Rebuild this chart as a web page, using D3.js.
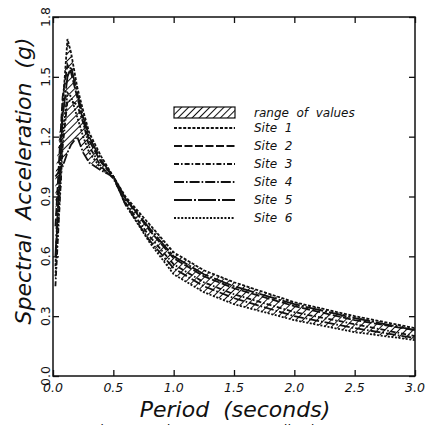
<!DOCTYPE html>
<html>
<head>
<meta charset="UTF-8">
<script src="https://d3js.org/d3.v7.min.js"></script>
<style>
  body { margin: 0; background: #fff; }
  text { font-family: "DejaVu Sans", sans-serif; fill: #111; white-space: pre; }
</style>
</head>
<body>
<div id="chart"></div>
<script>
const width = 431, height = 425;
const marginTop = 17, marginRight = 16, marginBottom = 49, marginLeft = 53;

// period (s)
const periods = [0.02, 0.08, 0.12, 0.15, 0.2, 0.25, 0.3, 0.4, 0.5, 0.6, 0.8, 1.0, 1.25, 1.5, 2.0, 2.5, 3.0];
// spectral acceleration (g) per site
const site1 = [0.55, 1.35, 1.69, 1.62, 1.45, 1.33, 1.22, 1.10, 1.00, 0.90, 0.76, 0.62, 0.53, 0.47, 0.37, 0.30, 0.24];
const site2 = [0.75, 1.40, 1.56, 1.52, 1.40, 1.28, 1.18, 1.07, 1.00, 0.89, 0.73, 0.59, 0.50, 0.44, 0.35, 0.28, 0.23];
const site3 = [0.45, 1.15, 1.38, 1.38, 1.36, 1.27, 1.15, 1.05, 0.99, 0.87, 0.70, 0.56, 0.47, 0.41, 0.32, 0.26, 0.20];
const site4 = [1.00, 1.05, 1.12, 1.16, 1.20, 1.12, 1.07, 1.03, 1.00, 0.86, 0.68, 0.54, 0.45, 0.39, 0.30, 0.24, 0.19];
const site5 = [0.60, 1.30, 1.50, 1.55, 1.42, 1.30, 1.20, 1.08, 1.00, 0.89, 0.74, 0.60, 0.51, 0.45, 0.36, 0.29, 0.23];
const site6 = [0.50, 1.20, 1.42, 1.40, 1.30, 1.20, 1.12, 1.04, 1.00, 0.86, 0.67, 0.51, 0.42, 0.36, 0.28, 0.22, 0.18];

const siteNames = ["Site  1", "Site  2", "Site  3", "Site  4", "Site  5", "Site  6"];
const xTicks = [0, 0.5, 1.0, 1.5, 2.0, 2.5, 3.0];
const yTicks = [0, 0.3, 0.6, 0.9, 1.2, 1.5, 1.8];

const sites = [site1, site2, site3, site4, site5, site6];
const dashes = ["3,1.6", "8,2.5", "5,2,1.6,2", "10,2,1.6,2", "18,2,2,2", "2,1.6"];

const x = d3.scaleLinear().domain([0, 3]).range([marginLeft, width - marginRight]);
const y = d3.scaleLinear().domain([0, 1.8]).range([height - marginBottom, marginTop]);

const svg = d3.select("#chart").append("svg")
  .attr("width", width).attr("height", height);

const defs = svg.append("defs");
const pat = defs.append("pattern")
  .attr("id", "hatch").attr("patternUnits", "userSpaceOnUse")
  .attr("width", 5).attr("height", 5)
  .attr("patternTransform", "rotate(45)");
pat.append("rect").attr("width", 5).attr("height", 5).attr("fill", "#fff");
pat.append("line").attr("x1", 0).attr("y1", 0).attr("x2", 0).attr("y2", 5)
  .attr("stroke", "#111").attr("stroke-width", 2);

// range band = envelope of all sites
const band = periods.map((p, i) => ({
  p, lo: d3.min(sites, s => s[i]), hi: d3.max(sites, s => s[i])
}));

svg.append("path")
  .datum(band)
  .attr("fill", "url(#hatch)")
  .attr("d", d3.area().x(d => x(d.p)).y0(d => y(d.lo)).y1(d => y(d.hi)));

const line = d3.line().x((d, i) => x(periods[i])).y(d => y(d));
sites.forEach((s, k) => {
  svg.append("path").datum(s)
    .attr("fill", "none").attr("stroke", "#111")
    .attr("stroke-width", 1.8)
    .attr("stroke-dasharray", dashes[k])
    .attr("d", line);
});

// frame with inward ticks on all sides
svg.append("rect")
  .attr("x", x(0)).attr("y", y(1.8))
  .attr("width", x(3) - x(0)).attr("height", y(0) - y(1.8))
  .attr("fill", "none").attr("stroke", "#111").attr("stroke-width", 1.5);

svg.append("g")
  .attr("transform", `translate(0,${y(0)})`)
  .call(d3.axisTop(x).tickValues(xTicks).tickSize(6).tickFormat(""));
svg.append("g")
  .attr("transform", `translate(0,${y(1.8)})`)
  .call(d3.axisBottom(x).tickValues(xTicks).tickSize(6).tickFormat(""));
svg.append("g")
  .attr("transform", `translate(${x(0)},0)`)
  .call(d3.axisRight(y).tickValues(yTicks).tickSize(6).tickFormat(""));
svg.append("g")
  .attr("transform", `translate(${x(3)},0)`)
  .call(d3.axisLeft(y).tickValues(yTicks).tickSize(6).tickFormat(""));
svg.selectAll(".domain").remove();
svg.selectAll(".tick line").attr("stroke", "#111").attr("stroke-width", 1.3);

// tick labels
svg.append("g").selectAll("text").data(xTicks).join("text")
  .attr("x", d => x(d)).attr("y", y(0) + 16)
  .attr("text-anchor", "middle").attr("font-size", 12.5).attr("font-style", "italic")
  .text(d => d.toFixed(1));

svg.append("g").selectAll("text").data(yTicks).join("text")
  .attr("transform", d => `translate(${x(0) - 3},${y(d)}) rotate(-90)`)
  .attr("text-anchor", "middle").attr("font-size", 12.5)
  .text(d => d.toFixed(1));

// axis titles
svg.append("text")
  .attr("x", 235).attr("y", 417)
  .attr("text-anchor", "middle").attr("font-size", 22).attr("font-style", "italic")
  .text("Period  (seconds)");

svg.append("text")
  .attr("transform", `translate(31,181) rotate(-90)`)
  .attr("text-anchor", "middle").attr("font-size", 22).attr("font-style", "italic")
  .text("Spectral  Acceleration  (g)");

// caption at the bottom edge, mostly outside the frame as in the scan
svg.append("text")
  .attr("x", 232).attr("y", 434)
  .attr("text-anchor", "middle").attr("font-size", 13).attr("font-style", "italic")
  .text("Figure 6   Site Spectra normalized to 1 g at");

// legend
const lg = svg.append("g").attr("transform", "translate(174,107)");
lg.append("rect").attr("width", 61).attr("height", 11)
  .attr("fill", "url(#hatch)").attr("stroke", "#111").attr("stroke-width", 1.2);
lg.append("text").attr("x", 80).attr("y", 10)
  .attr("font-size", 12).attr("font-style", "italic")
  .text("range  of  values");
siteNames.forEach((n, k) => {
  const yy = 21 + k * 18;
  lg.append("line").attr("x1", 0).attr("x2", 61).attr("y1", yy).attr("y2", yy)
    .attr("stroke", "#111").attr("stroke-width", 1.8)
    .attr("stroke-dasharray", dashes[k]);
  lg.append("text").attr("x", 80).attr("y", yy + 4)
    .attr("font-size", 12).attr("font-style", "italic")
    .text(n);
});
</script>
</body>
</html>
